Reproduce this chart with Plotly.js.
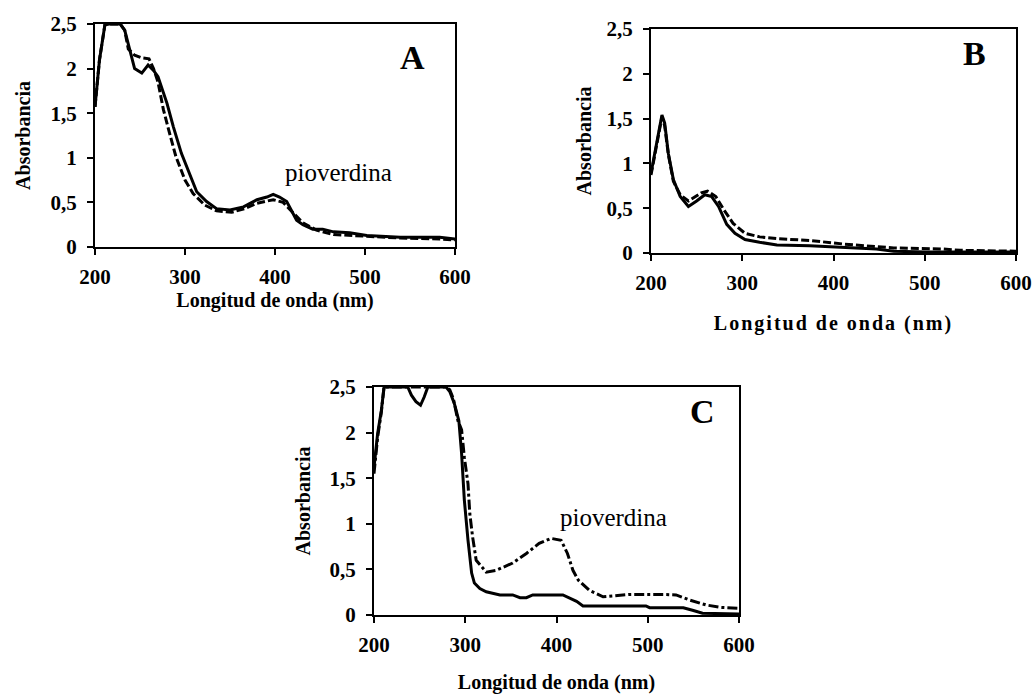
<!DOCTYPE html>
<html>
<head>
<meta charset="utf-8">
<script src="https://cdn.plot.ly/plotly-3.0.1.min.js"></script>
<style>
html,body{margin:0;padding:0;background:#fff;}
#chart{width:1034px;height:694px;}
.x2title{letter-spacing:2px;}
</style>
</head>
<body>
<div id="chart"></div>
<script>
// Panel A
const aSolidX = [200,205,211,216,222,228,233,239,244,252,259,265,270,280,287,296,306,313,324,335,350,365,380,391,398,405,413,418,424,431,442,453,465,483,502,539,583,600];
const aSolidY = [1.57,2.10,2.49,2.5,2.5,2.5,2.43,2.19,2.0,1.95,2.04,1.98,1.91,1.61,1.35,1.05,0.79,0.62,0.51,0.43,0.415,0.45,0.53,0.56,0.59,0.56,0.51,0.415,0.30,0.25,0.20,0.20,0.17,0.16,0.13,0.11,0.11,0.09];
const aDashX = [200,205,211,216,222,228,233,237,244,252,260,265,270,276,283,290,300,309,322,335,352,366,380,398,409,420,431,446,465,502,539,583,600];
const aDashY = [1.57,2.10,2.49,2.5,2.5,2.5,2.43,2.22,2.15,2.12,2.11,2.0,1.85,1.54,1.27,1.01,0.75,0.60,0.47,0.405,0.39,0.43,0.49,0.53,0.50,0.38,0.27,0.19,0.14,0.12,0.10,0.09,0.08];
// Panel B
const bSolidX = [200,206,212,215,219,224.5,232,241,250,259,266.5,274,283,292,303,319,338,374,392,418,447,466,502,600];
const bSolidY = [0.89,1.23,1.54,1.45,1.11,0.82,0.63,0.52,0.58,0.65,0.63,0.52,0.32,0.22,0.15,0.12,0.09,0.08,0.07,0.056,0.045,0.02,0.01,0.01];
const bDashX = [200,206,212,215,219,224.5,232,241,255,262,271,280,290,303,319,338,374,411,436,466,520,539,600];
const bDashY = [0.87,1.2,1.52,1.42,1.1,0.8,0.65,0.58,0.67,0.69,0.63,0.48,0.33,0.22,0.18,0.16,0.14,0.10,0.08,0.056,0.045,0.03,0.02];
// Panel C
const cSolidX = [200,204,208,211,237,241,246,251,255,259,279,283,288,293,296,299,303,307,310,316,323,338,352,360,367,374,407,414,422,429,498,502,539,550,560,600];
const cSolidY = [1.62,1.99,2.24,2.5,2.5,2.41,2.34,2.30,2.39,2.5,2.5,2.45,2.32,2.13,1.77,1.26,0.82,0.46,0.35,0.29,0.255,0.22,0.22,0.19,0.19,0.22,0.22,0.19,0.15,0.10,0.10,0.08,0.08,0.05,0.02,0.01];
const cDashX = [200,204,208,211,279,283,287,292,296,299,303,305,308,312,323,334,352,367,381,394,405,412,418,424,436,451,462,480,517,531,546,564,579,600];
const cDashY = [1.55,1.95,2.22,2.5,2.5,2.47,2.37,2.13,2.03,1.73,1.44,1.11,0.86,0.60,0.47,0.49,0.57,0.675,0.785,0.84,0.82,0.675,0.49,0.38,0.27,0.20,0.21,0.226,0.226,0.22,0.164,0.11,0.084,0.073];

const yTickVals = [0,0.5,1,1.5,2,2.5];
const yTickText = ["0","0,5","1","1,5","2","2,5"];
const xTickVals = [200,300,400,500,600];
const xTickText = ["200","300","400","500","600"];
const panelLetters = ["A","B","C"];
const xTitle = "Longitud de onda (nm)";
const yTitle = "Absorbancia";
const peakLabel = "pioverdina";

const FONT = "Liberation Serif, serif";
const tickFont = {family: FONT, size: 21, color: "#000", weight: 700};
const titleFont = {family: FONT, size: 20, color: "#000", weight: 700};

function line(x, y, xa, ya, dash) {
  return {x: x, y: y, xaxis: xa, yaxis: ya, type: "scatter", mode: "lines",
          line: {color: "#000", width: 3, dash: dash}, hoverinfo: "skip", showlegend: false};
}

const data = [
  line(aDashX, aDashY, "x", "y", "8px,3px"),
  line(aSolidX, aSolidY, "x", "y", "solid"),
  line(bDashX, bDashY, "x2", "y2", "8px,3px"),
  line(bSolidX, bSolidY, "x2", "y2", "solid"),
  line(cDashX, cDashY, "x3", "y3", "10px,3px,3px,3px"),
  line(cSolidX, cSolidY, "x3", "y3", "solid")
];

function xax(domain, anchor, standoff) {
  return {domain: domain, anchor: anchor, range: [200, 600], tickvals: xTickVals, ticktext: xTickText,
    ticks: "outside", ticklen: 6, tickwidth: 2, tickcolor: "#000", showline: true, linewidth: 2,
    linecolor: "#000", mirror: true, showgrid: false, zeroline: false, tickfont: tickFont,
    ticklabelstandoff: 4,
    title: {text: xTitle, font: titleFont, standoff: standoff}, automargin: false, fixedrange: true};
}
function yax(domain, anchor, standoff) {
  return {domain: domain, anchor: anchor, range: [0, 2.5], tickvals: yTickVals, ticktext: yTickText,
    ticks: "outside", ticklen: 6, tickwidth: 2, tickcolor: "#000", showline: true, linewidth: 2,
    linecolor: "#000", mirror: true, showgrid: false, zeroline: false, tickfont: tickFont,
    ticklabelstandoff: 6,
    title: {text: yTitle, font: titleFont, standoff: standoff}, automargin: false, fixedrange: true};
}

const layout = {
  width: 1034, height: 694,
  margin: {l: 0, r: 0, t: 0, b: 0},
  paper_bgcolor: "#fff", plot_bgcolor: "#fff",
  showlegend: false,
  xaxis: xax([95/1034, 455/1034], "y", 1),
  yaxis: yax([1-247/694, 1-24/694], "x", 15),
  xaxis2: xax([651/1034, 1016/1034], "y2", 22),
  yaxis2: yax([1-253/694, 1-29/694], "x2", 10),
  xaxis3: xax([374/1034, 739/1034], "y3", 22),
  yaxis3: yax([1-615/694, 1-387/694], "x3", 14),
  annotations: [
    {xref: "x", yref: "y", x: 553, y: 2.12, text: panelLetters[0], showarrow: false,
     font: {family: FONT, size: 34, color: "#000", weight: 700}},
    {xref: "x2", yref: "y2", x: 555, y: 2.23, text: panelLetters[1], showarrow: false,
     font: {family: FONT, size: 34, color: "#000", weight: 700}},
    {xref: "x3", yref: "y3", x: 560, y: 2.23, text: panelLetters[2], showarrow: false,
     font: {family: FONT, size: 34, color: "#000", weight: 700}},
    {xref: "x", yref: "y", x: 470, y: 0.83, text: peakLabel, showarrow: false,
     font: {family: FONT, size: 25, color: "#000"}},
    {xref: "x3", yref: "y3", x: 462, y: 1.07, text: peakLabel, showarrow: false,
     font: {family: FONT, size: 25, color: "#000"}}
  ]
};

Plotly.newPlot("chart", data, layout, {staticPlot: true, displayModeBar: false});
</script>
</body>
</html>
